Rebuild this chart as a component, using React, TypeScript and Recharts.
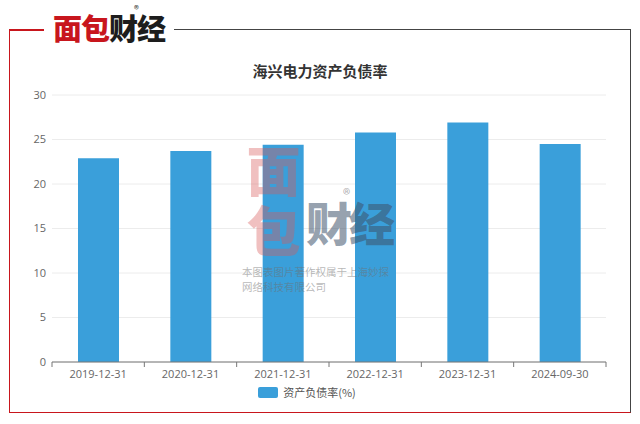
import React from 'react';
import { BarChart, Bar, XAxis, YAxis, CartesianGrid, Legend } from 'recharts';

const categories = ['2019-12-31', '2020-12-31', '2021-12-31', '2022-12-31', '2023-12-31', '2024-09-30'];
const debtRatio = [22.9, 23.7, 24.4, 25.8, 26.9, 24.5];
const yTicks = [0, 5, 10, 15, 20, 25, 30];

const data = categories.map((date, i) => ({ date, ratio: debtRatio[i] }));

const BAR_COLOR = '#3a9fda';
const RED = '#c8161d';
const AXIS = '#777';
const FONT = '"Noto Sans CJK SC", "Open Sans", sans-serif';
const TICK_FONT = '"Open Sans", "Noto Sans CJK SC", sans-serif';

// category tick: label at the band centre, tick marks on the band edges (offset = half band from the scale)
// y comes in as axis line + tickSize(6) + tickMargin(2)
const DateTick = (props: any) => {
  const { x, y, payload, index } = props;
  const half = payload.offset || 0;
  const axisY = y - 8;
  const last = index === categories.length - 1;
  return (
    <g>
      <line x1={x - half} x2={x - half} y1={axisY} y2={axisY + 5} stroke={AXIS} />
      {last && <line x1={x + half} x2={x + half} y1={axisY} y2={axisY + 5} stroke={AXIS} />}
      <text x={x} y={axisY + 16} textAnchor="middle" fill="#666" fontSize={11} fontFamily={TICK_FONT}>
        {payload.value}
      </text>
    </g>
  );
};

const Logo = () => (
  <div
    style={{
      position: 'absolute', left: 44, top: 6, width: 130, height: 42, background: '#fff',
      display: 'flex', alignItems: 'center', justifyContent: 'center',
      fontFamily: FONT, fontWeight: 900, fontSize: 29, letterSpacing: -1, lineHeight: 1,
    }}
  >
    <span style={{ color: RED }}>面包</span>
    <span style={{ color: '#1d1d1d' }}>财经</span>
    <span style={{ position: 'absolute', left: 90, top: -2, fontSize: 10, fontWeight: 400, color: '#333', lineHeight: '10px' }}>®</span>
  </div>
);

const Watermark = () => (
  <div style={{ position: 'absolute', left: 240, top: 142, width: 170, height: 160, fontFamily: FONT, pointerEvents: 'none' }}>
    <div
      style={{
        position: 'absolute', left: 4, top: 2, color: 'rgba(215,90,90,0.38)', fontSize: 54, fontWeight: 900,
        lineHeight: '58px', writingMode: 'vertical-rl', letterSpacing: 6,
      }}
    >
      面包
    </div>
    <div style={{ position: 'absolute', left: 66, top: 56, color: 'rgba(60,80,105,0.55)', fontSize: 46, fontWeight: 900, letterSpacing: -3, lineHeight: 1 }}>
      财经
    </div>
    <div style={{ position: 'absolute', left: 103, top: 44, color: 'rgba(90,90,90,0.5)', fontSize: 15, lineHeight: '15px' }}>®</div>
    <div style={{ position: 'absolute', left: 2, top: 122, color: 'rgba(110,110,110,0.5)', fontSize: 10.5, lineHeight: '15px', whiteSpace: 'nowrap' }}>
      <div>本图表图片著作权属于上海妙探</div>
      <div>网络科技有限公司</div>
    </div>
  </div>
);

export default function App() {
  return (
    <div style={{ position: 'absolute', left: 0, top: 0, width: 640, height: 424, background: '#fff', fontFamily: FONT }}>
      <div
        style={{
          position: 'absolute', left: 9, top: 29, width: 620, height: 382,
          borderLeft: `1.5px solid ${RED}`, borderBottom: `1.5px solid ${RED}`,
          borderTop: '1.5px solid #444', borderRight: '1.5px solid #444',
        }}
      />
      <div style={{ position: 'absolute', left: 9, top: 29, width: 40, height: 1.5, background: RED }} />
      <Logo />
      <div style={{ position: 'absolute', left: 0, top: 60, width: 640, textAlign: 'center', fontSize: 15, fontWeight: 700, color: '#333' }}>
        海兴电力资产负债率
      </div>
      <div style={{ position: 'absolute', left: 0, top: 0 }}>
        <BarChart width={640} height={424} data={data} margin={{ top: 95, right: 34, left: 8, bottom: 0 }}>
          <CartesianGrid vertical={false} stroke="#ececec" />
          <XAxis
            dataKey="date"
            height={28}
            axisLine={{ stroke: AXIS }}
            tickLine={false}
            interval={0}
            tick={<DateTick />}
          />
          <YAxis
            domain={[0, 30]}
            ticks={yTicks}
            width={44}
            axisLine={false}
            tickLine={false}
            tick={{ fill: '#666', fontSize: 11, fontFamily: TICK_FONT }}
            tickMargin={0}
          />
          <Legend
            verticalAlign="bottom"
            height={34}
            content={() => (
              <div style={{ display: 'flex', justifyContent: 'center', alignItems: 'center', fontSize: 11, color: '#555', marginTop: -6 }}>
                <span style={{ display: 'inline-block', width: 20, height: 11, borderRadius: 2, background: BAR_COLOR, marginRight: 5 }} />
                资产负债率(%)
              </div>
            )}
          />
          <Bar dataKey="ratio" name="资产负债率(%)" fill={BAR_COLOR} barSize={41} isAnimationActive={false} />
        </BarChart>
      </div>
      <Watermark />
    </div>
  );
}
